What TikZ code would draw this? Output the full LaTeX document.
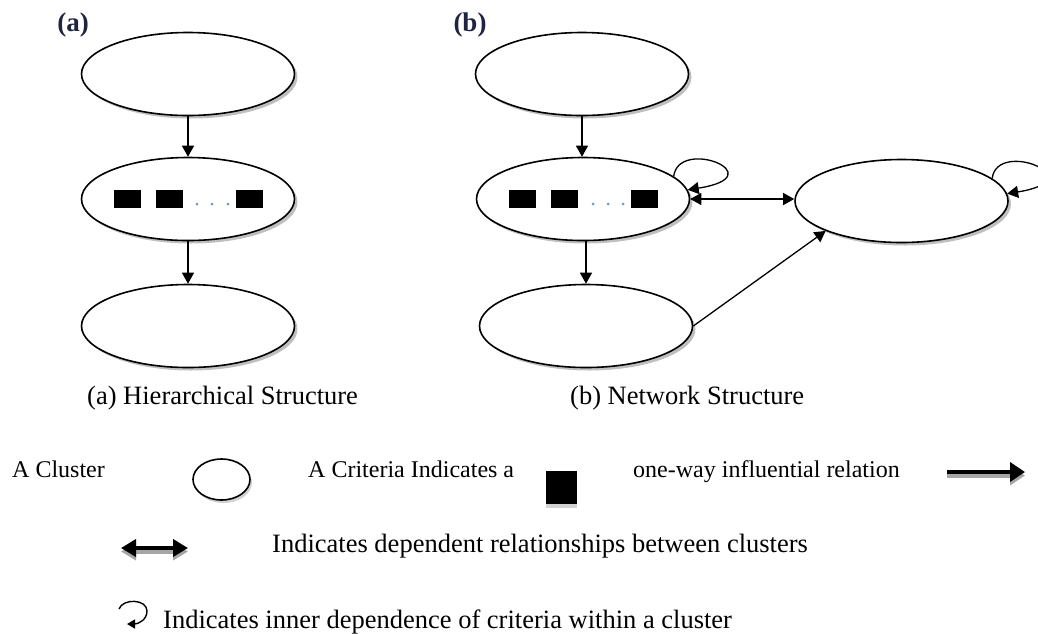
\documentclass[tikz,border=0pt]{standalone}
\usepackage{fontspec}
\setmainfont{Liberation Serif}
\usetikzlibrary{shapes.geometric,shadows,arrows.meta}
\definecolor{labelnavy}{RGB}{30,36,66}
\definecolor{dotblue}{RGB}{110,150,205}
\begin{document}
\begin{tikzpicture}[x=1pt, y=-1pt,
  cluster/.style={ellipse, draw, line width=1.6pt, fill=white, minimum width=213pt, minimum height=83pt,
    drop shadow={shadow xshift=3pt, shadow yshift=-3pt, fill=black!50}},
  crit/.style={fill=black, minimum width=27pt, minimum height=18pt, inner sep=0pt},
  critdot/.style={circle, fill=dotblue, minimum size=3pt, inner sep=0pt},
  flow/.style={-{Triangle[length=11pt,width=12pt]}, line width=1.3pt},
  twoway/.style={{Triangle[length=11pt,width=12pt]}-{Triangle[length=11pt,width=12pt]}, line width=1.3pt},
  panellbl/.style={font=\fontsize{27}{29}\selectfont\bfseries, text=labelnavy, inner sep=0pt},
  capt/.style={font=\fontsize{26.5}{30}\selectfont, inner sep=0pt, anchor=base west},
  keytxt/.style={font=\fontsize{24}{28}\selectfont, inner sep=0pt, anchor=base west},
  keyarrow/.style={line width=4.5pt, -{Triangle[length=15pt,width=19pt]}},
  keytwoway/.style={line width=4.5pt, {Triangle[length=15pt,width=17pt]}-{Triangle[length=15pt,width=17pt]}},
  keyshadow/.style={draw=black!35}]
\useasboundingbox (0,0) rectangle (1038,633);

\node[panellbl] (la) at (73,25) {(a)};
\node[cluster] (a1) at (188,74) {};
\node[cluster] (a2) at (188,199) {};
\node[cluster] (a3) at (188,326) {};
\node[crit] (a2c1) at (127,199) {};
\node[crit] (a2c2) at (169,199) {};
\node[crit] (a2c3) at (249,199) {};
\foreach \x in {197,212,228} \node[critdot] at (\x,204) {};
\draw[flow] (a1.south) -- (a2.north);
\draw[flow] (a2.south) -- (a3.north);
\node[capt] (ca) at (87,404) {(a) Hierarchical Structure};

\node[panellbl] (lb) at (470,25) {(b)};
\node[cluster] (b1) at (582,74) {};
\node[cluster] (b2) at (583,199) {};
\node[cluster] (b3) at (586,326) {};
\node[cluster] (b4) at (901.5,201) {};
\node[crit] (b2c1) at (522,199) {};
\node[crit] (b2c2) at (564,199) {};
\node[crit] (b2c3) at (644,199) {};
\foreach \x in {593,608,623} \node[critdot] at (\x,204) {};
\draw[flow] (b1.south) -- (b1.south |- b2.north);
\draw[flow] (b3.north |- b2.south) -- (b3.north);
\draw[twoway] (b2.east) -- (b2.east -| b4.west);
\draw[flow] (b3.east) -- (b4.south west);
\draw[flow] (b2.14) .. controls +(5,-40) and +(88,-14) .. (b2.5);
\draw[flow] (b4.14) .. controls +(5,-40) and +(88,-14) .. (b4.4);
\node[capt] (cb) at (570,404) {(b) Network Structure};

\node[keytxt] (k1) at (12,477) {A Cluster};
\node[ellipse, draw, line width=1.6pt, fill=white, minimum width=57pt, minimum height=41pt,
  drop shadow={shadow xshift=2pt, shadow yshift=-3pt, fill=black!35}] (kc) at (221.5,479.5) {};
\node[keytxt] (k2) at (308,477) {A Criteria Indicates a};
\node[fill=black, minimum width=31pt, minimum height=33pt, inner sep=0pt,
  drop shadow={shadow xshift=0pt, shadow yshift=-4pt, fill=black!35}] (ks) at (561.5,487.5) {};
\node[keytxt] (k3) at (633,477) {one-way influential relation};
\coordinate (ka1) at (947,472);
\coordinate (ka2) at (1025,472);
\draw[keyarrow, keyshadow] ([yshift=-3.5pt]ka1) -- ([yshift=-3.5pt]ka2);
\draw[keyarrow] (ka1) -- (ka2);

\coordinate (kd1) at (121,548);
\coordinate (kd2) at (188,548);
\draw[keytwoway, keyshadow] ([yshift=-3.5pt]kd1) -- ([yshift=-3.5pt]kd2);
\draw[keytwoway] (kd1) -- (kd2);
\node[capt] (k4) at (272,552) {Indicates dependent relationships between clusters};

\coordinate (kl1) at (119,609);
\coordinate (kl2) at (127,624);
\draw[-{Triangle[length=8pt,width=9pt]}, line width=1.4pt] (kl1) .. controls (123,598) and (147,599) .. (147,611) .. controls (147,620) and (138,624) .. (kl2);
\node[capt] (k5) at (163,628) {Indicates inner dependence of criteria within a cluster};
\end{tikzpicture}
\end{document}
